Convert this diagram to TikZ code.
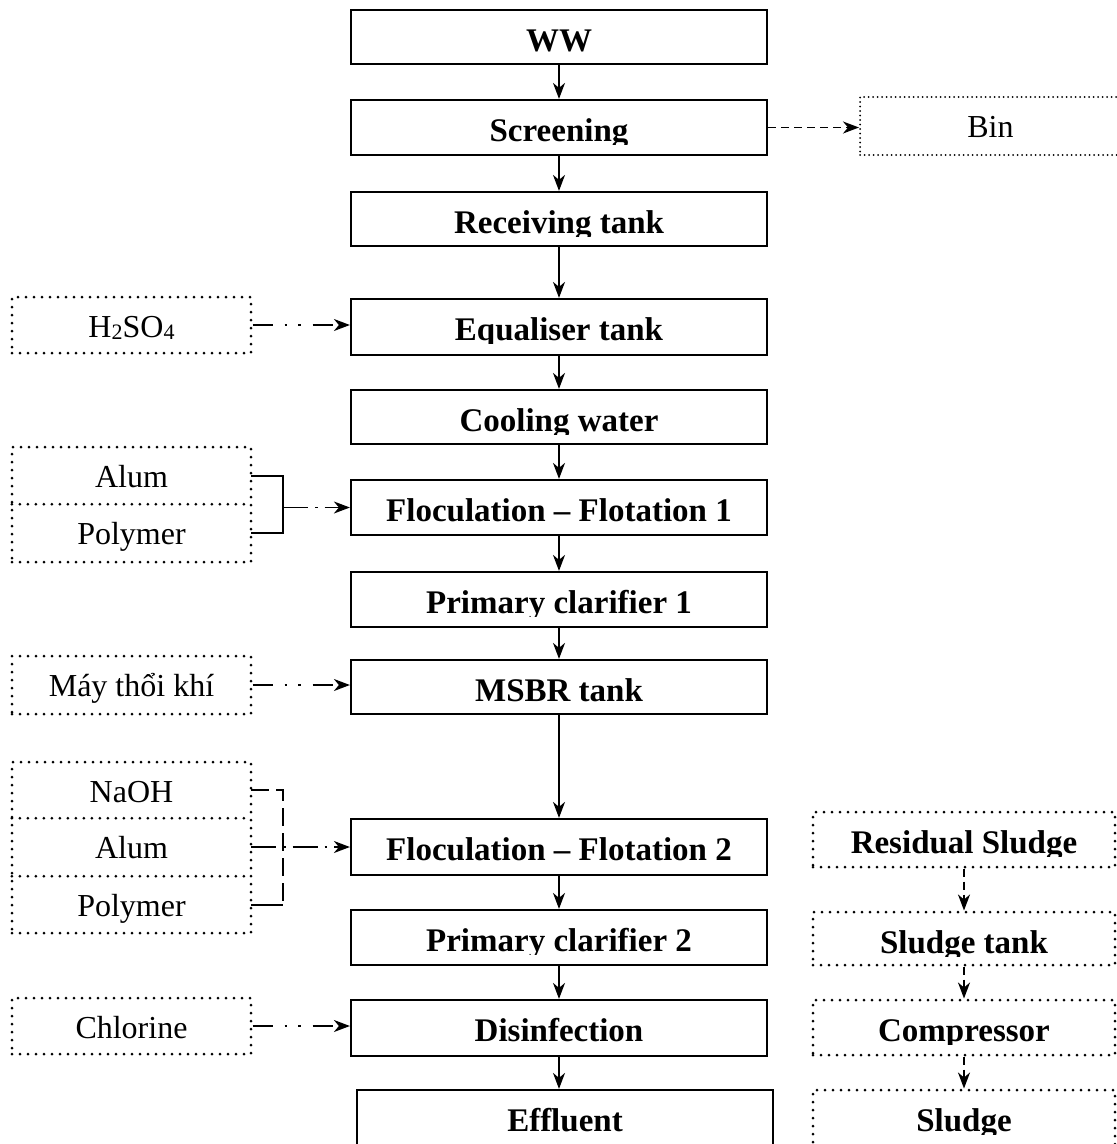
\documentclass[tikz,border=0pt]{standalone}
\usepackage{fontspec}
\setmainfont{Liberation Serif}
\usetikzlibrary{arrows.meta}
\tikzset{
 mainbox/.style={draw, line width=2.2pt, inner sep=0pt, rectangle},
 dotbox/.style={draw, line width=3pt, dash pattern=on 0pt off 8pt, line cap=round, inner sep=0pt, rectangle},
 finedot/.style={draw, line width=2pt, dash pattern=on 0pt off 4.5pt, line cap=round, inner sep=0pt, rectangle},
 dotline/.style={line width=3pt, dash pattern=on 0pt off 8pt, line cap=round},
 rowbox/.style={inner sep=0pt, rectangle},
 boldtxt/.style={anchor=base, inner sep=0pt, font=\fontsize{33}{38}\selectfont\bfseries},
 regtxt/.style={anchor=base, inner sep=0pt, font=\fontsize{32}{38}\selectfont},
 flow/.style={line width=1.8pt, -{Stealth[length=16pt,width=12pt,inset=5pt]}},
 ddot/.style={flow, dash pattern=on 20pt off 12pt on 2.5pt off 11pt on 2.5pt off 12pt},
 dshdot/.style={flow, dash pattern=on 25pt off 7pt on 2.5pt off 7pt},
 dsh/.style={flow, dash pattern=on 8pt off 5pt},
 brk/.style={line width=2pt},
 brkdash/.style={line width=2pt, dash pattern=on 18pt off 7pt},
}
% #1 name, #2 style, #3 x1, #4 y1, #5 x2, #6 y2, #7 text (bold, descenders clipped)
\newcommand\procbox[7]{%
 \node[#2, minimum width={#5pt-#3pt}, minimum height={#6pt-#4pt}] (#1) at ({(#3+#5)/2},{(#4+#6)/2}) {};
 \begin{scope}
  \clip (#3,#4) rectangle (#5,{#4+44});
  \node[boldtxt] (#1-t) at ({(#3+#5)/2},{#4+41}) {#7};
 \end{scope}}
% regular text box
\newcommand\plainbox[7]{%
 \node[#2, minimum width={#5pt-#3pt}, minimum height={#6pt-#4pt}] (#1) at ({(#3+#5)/2},{(#4+#6)/2}) {};
 \node[regtxt] (#1-t) at ({(#3+#5)/2},{#4+40}) {#7};}
\newcommand\subdigit[1]{\raisebox{-2pt}{\fontsize{22}{22}\selectfont #1}}
\begin{document}
\begin{tikzpicture}[x=1pt,y=-1pt]
\useasboundingbox (0,0) rectangle (1117,1144);
% main column
\procbox{ww}{mainbox}{351}{10}{767}{64}{WW}
\procbox{sc}{mainbox}{351}{100}{767}{155}{Screening}
\procbox{rt}{mainbox}{351}{192}{767}{246}{Receiving tank}
\procbox{eq}{mainbox}{351}{299}{767}{355}{Equaliser tank}
\procbox{cw}{mainbox}{351}{390}{767}{444}{Cooling water}
\procbox{fa}{mainbox}{351}{480}{767}{535}{Floculation -- Flotation 1}
\procbox{pa}{mainbox}{351}{572}{767}{627}{Primary clarifier 1}
\procbox{ms}{mainbox}{351}{660}{767}{714}{MSBR tank}
\procbox{fb}{mainbox}{351}{819}{767}{875}{Floculation -- Flotation 2}
\procbox{pb}{mainbox}{351}{910}{767}{965}{Primary clarifier 2}
\procbox{di}{mainbox}{351}{1000}{767}{1056}{Disinfection}
\procbox{ef}{mainbox}{357}{1090}{773}{1146}{Effluent}
% right column
\plainbox{bin}{finedot}{860}{97}{1121}{155}{Bin}
\procbox{rs}{dotbox}{813}{812}{1115}{867}{Residual Sludge}
\procbox{st}{dotbox}{813}{912}{1115}{965}{Sludge tank}
\procbox{cp}{dotbox}{813}{1000}{1115}{1055}{Compressor}
\procbox{sl}{dotbox}{813}{1090}{1115}{1146}{Sludge}
% left column
\plainbox{hs}{dotbox}{12}{297}{251}{353}{H\subdigit{2}SO\subdigit{4}}
\node[dotbox, minimum width=239pt, minimum height=115pt] (ga) at (131.5,504.5) {};
\plainbox{ala}{rowbox}{12}{447}{251}{504}{Alum}
\plainbox{poa}{rowbox}{12}{504}{251}{562}{Polymer}
\draw[dotline] (ala.south west) -- (ala.south east);
\plainbox{mt}{dotbox}{12}{656}{251}{714}{Máy thổi khí}
\node[dotbox, minimum width=239pt, minimum height=171pt] (gb) at (131.5,847.5) {};
\plainbox{na}{rowbox}{12}{762}{251}{818}{NaOH}
\plainbox{alb}{rowbox}{12}{818}{251}{876}{Alum}
\plainbox{pob}{rowbox}{12}{876}{251}{933}{Polymer}
\draw[dotline] (na.south west) -- (na.south east);
\draw[dotline] (alb.south west) -- (alb.south east);
\plainbox{cl}{dotbox}{12}{998}{251}{1054}{Chlorine}
% main flow arrows
\draw[flow] (ww.south) -- (sc.north);
\draw[flow] (sc.south) -- (rt.north);
\draw[flow] (rt.south) -- (eq.north);
\draw[flow] (eq.south) -- (cw.north);
\draw[flow] (cw.south) -- (fa.north);
\draw[flow] (fa.south) -- (pa.north);
\draw[flow] (pa.south) -- (ms.north);
\draw[flow] (ms.south) -- (fb.north);
\draw[flow] (fb.south) -- (pb.north);
\draw[flow] (pb.south) -- (di.north);
\draw[flow] (di.south) -- (di.south |- ef.north);
% side arrows
\draw[dsh] (sc.east) -- (sc.east -| bin.west);
\draw[ddot] (hs.east) -- (hs.east -| eq.west);
\draw[ddot] (mt.east) -- (mt.east -| ms.west);
\draw[ddot] (cl.east) -- (cl.east -| di.west);
\coordinate (ba) at (283,507.5);
\draw[brk] (ala.east) -| (ba) |- (poa.east);
\draw[dshdot] (ba) -- (ba -| fa.west);
\coordinate (bb) at (283,847);
\draw[brkdash] (na.east) -| (bb) -- (bb |- pob.east);
\draw[brk] (pob.east) -- (pob.east -| bb);
\draw[dshdot] (alb.east) -- (alb.east -| fb.west);
% sludge line
\draw[dsh] (rs.south) -- (st.north);
\draw[dsh] (st.south) -- (cp.north);
\draw[dsh] (cp.south) -- (sl.north);
\end{tikzpicture}
\end{document}
